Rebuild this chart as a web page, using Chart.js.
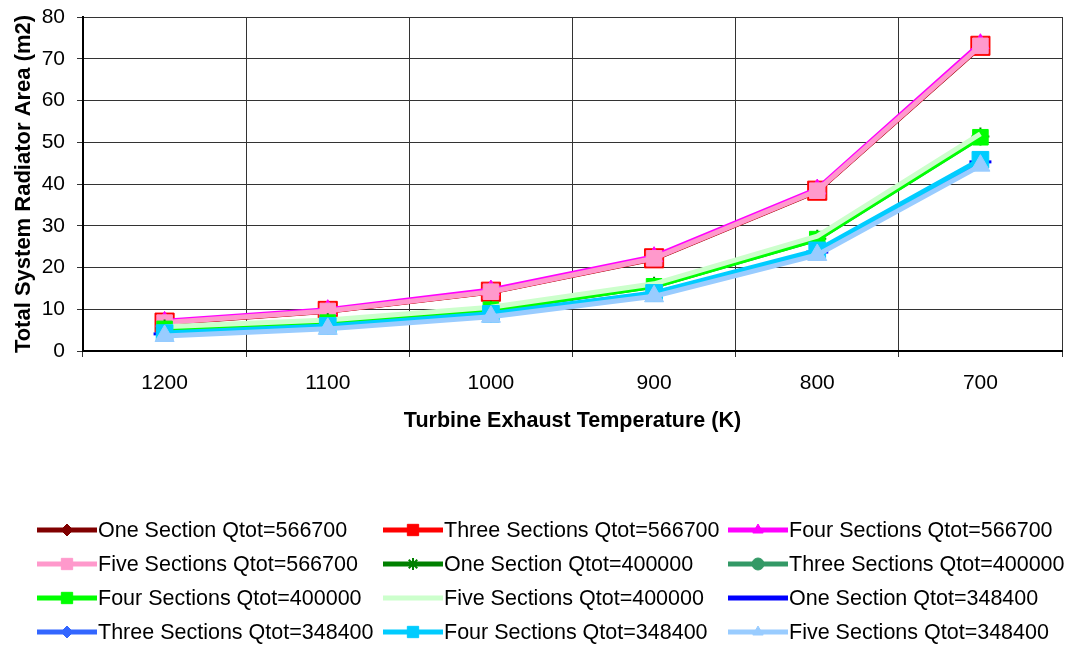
<!DOCTYPE html>
<html>
<head>
<meta charset="utf-8">
<script src="https://cdn.jsdelivr.net/npm/chart.js@4.4.1/dist/chart.umd.min.js"></script>
<style>
  html, body { margin: 0; padding: 0; background: #fff; }
  #wrap { width: 1066px; height: 645px; position: relative; }
</style>
</head>
<body>
<div id="wrap"><canvas id="graficaRadiador"></canvas></div>
<script>
// Temperatura de escape de la turbina (K)
const temperaturas = ['1200', '1100', '1000', '900', '800', '700'];

// Area total de radiador (m2) por numero de secciones y carga Qtot
const oneSec566700   = [6.7, 9.5, 14.1, 22.1, 38.3, 72.9];
const threeSec566700 = [6.8, 9.6, 14.2, 22.2, 38.4, 73.1];
const fourSec566700  = [7.1, 9.9, 14.6, 22.6, 38.8, 73.6];
const fiveSec566700  = [6.8, 9.6, 14.2, 22.2, 38.4, 73.1];

const oneSec400000   = [5.4, 6.9, 9.9, 15.6, 26.9, 51.4];
const threeSec400000 = [5.3, 6.8, 9.8, 15.5, 26.8, 51.2];
const fourSec400000  = [5.3, 6.8, 9.9, 15.5, 26.8, 51.2];
const fiveSec400000  = [5.8, 7.4, 10.5, 16.1, 27.5, 52.0];

const oneSec348400   = [4.1, 5.8, 8.7, 13.8, 23.7, 45.3];
const threeSec348400 = [4.1, 5.8, 8.7, 13.7, 23.6, 45.2];
const fourSec348400  = [4.3, 6.0, 8.9, 13.9, 24.1, 45.8];
const fiveSec348400  = [3.6, 5.3, 8.2, 13.1, 23.0, 44.4];

const fuente = "'Liberation Sans', Arial, sans-serif";

// arma una serie; las series posteriores se dibujan encima (order decreciente)
function serie(label, data, color, estilo, radio, i, borde) {
  return {
    label: label,
    data: data,
    borderColor: color,
    backgroundColor: color,
    borderWidth: 5,
    pointStyle: estilo,
    pointRadius: estilo ? radio : 0,
    pointHoverRadius: estilo ? radio : 0,
    pointBackgroundColor: color,
    pointBorderColor: color,
    pointBorderWidth: borde == null ? 1 : borde,
    tension: 0,
    fill: false,
    order: 20 - i
  };
}

const datasets = [
  serie('One Section Qtot=566700',    oneSec566700,   '#800000', 'rectRot',  8, 0),
  serie('Three Sections Qtot=566700', threeSec566700, '#FF0000', 'rect',   13.5, 1),
  serie('Four Sections Qtot=566700',  fourSec566700,  '#FF00FF', 'triangle', 10, 2),
  serie('Five Sections Qtot=566700',  fiveSec566700,  '#FF99CC', 'rect',     11, 3),
  serie('One Section Qtot=400000',    oneSec400000,   '#008000', 'star',      9, 4, 2),
  serie('Three Sections Qtot=400000', threeSec400000, '#339966', 'circle',    7, 5),
  serie('Four Sections Qtot=400000',  fourSec400000,  '#00FF00', 'rect',     11, 6),
  serie('Five Sections Qtot=400000',  fiveSec400000,  '#CCFFCC', false,       0, 7),
  serie('One Section Qtot=348400',    oneSec348400,   '#0000FF', 'line',     11, 8, 3),
  serie('Three Sections Qtot=348400', threeSec348400, '#3366FF', 'rectRot',   8, 9),
  serie('Four Sections Qtot=348400',  fourSec348400,  '#00CCFF', 'rect',   11.8, 10),
  serie('Five Sections Qtot=348400',  fiveSec348400,  '#99CCFF', 'triangle', 11, 11)
];

// leyenda en rejilla de 3 columnas debajo de la grafica
const legendCols = [37, 383, 728];
const legendTop = 530;
const legendGap = 34;

const leyendaRejilla = {
  id: 'leyendaRejilla',
  afterDraw(chart) {
    const ctx = chart.ctx;
    chart.data.datasets.forEach((ds, i) => {
      const x = legendCols[i % 3];
      const y = legendTop + Math.floor(i / 3) * legendGap;
      ctx.save();
      ctx.strokeStyle = ds.borderColor;
      ctx.lineWidth = 5;
      ctx.beginPath();
      ctx.moveTo(x, y);
      ctx.lineTo(x + 60, y);
      ctx.stroke();
      if (ds.pointStyle) {
        ctx.fillStyle = ds.pointBackgroundColor;
        ctx.strokeStyle = ds.pointBorderColor;
        ctx.lineWidth = ds.pointBorderWidth;
        const r = ds.pointStyle === 'rect' ? 8 : 6;
        Chart.helpers.drawPoint(ctx, { pointStyle: ds.pointStyle, radius: r, rotation: 0, borderWidth: ds.pointBorderWidth }, x + 30, y);
      }
      ctx.fillStyle = '#000';
      ctx.font = '21.5px ' + fuente;
      ctx.textBaseline = 'middle';
      ctx.textAlign = 'left';
      ctx.fillText(ds.label, x + 61, y + 1);
      ctx.restore();
    });
  }
};

const ctx = document.getElementById('graficaRadiador').getContext('2d');
const grafica = new Chart(ctx, {
  type: 'line',
  data: { labels: temperaturas, datasets: datasets },
  options: {
    responsive: true,
    maintainAspectRatio: false,
    animation: false,
    layout: { autoPadding: false, padding: { top: 0, right: 4, bottom: 211, left: 11 } },
    plugins: {
      legend: { display: false },
      tooltip: { enabled: false }
    },
    scales: {
      x: {
        offset: true,
        afterFit: (scale) => { scale.height = 83; },
        grid: { offset: true, color: '#333', lineWidth: 1, tickLength: 6 },
        border: { color: '#000', width: 2 },
        ticks: { color: '#000', font: { family: fuente, size: 21 }, padding: 14 },
        title: {
          display: true,
          text: 'Turbine Exhaust Temperature (K)',
          color: '#000',
          font: { family: fuente, size: 21.5, weight: 'bold' },
          padding: { top: 0, bottom: 0 }
        }
      },
      y: {
        min: 0,
        max: 80,
        afterFit: (scale) => { scale.width = 72; scale.paddingTop = 17; },
        grid: { color: '#333', lineWidth: 1, tickLength: 6 },
        border: { color: '#000', width: 2 },
        ticks: { stepSize: 10, color: '#000', font: { family: fuente, size: 21 }, padding: 12 },
        title: {
          display: true,
          text: 'Total System Radiator Area (m2)',
          color: '#000',
          font: { family: fuente, size: 22, weight: 'bold' },
          padding: { top: 0, bottom: 0 }
        }
      }
    }
  },
  plugins: [leyendaRejilla]
});
</script>
</body>
</html>
